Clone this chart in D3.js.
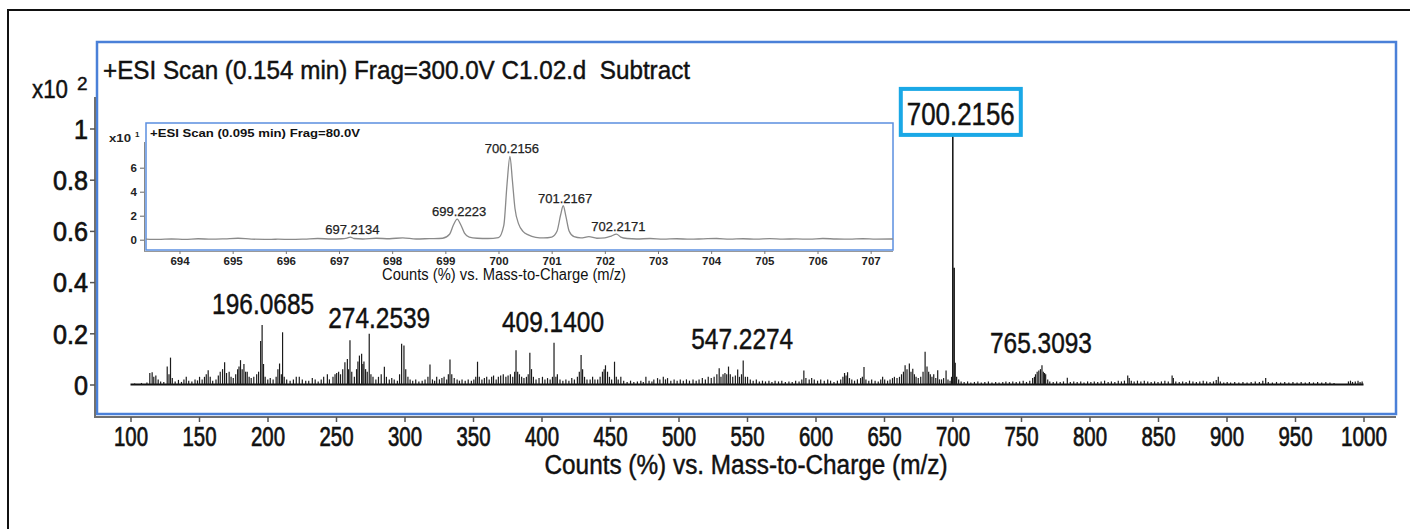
<!DOCTYPE html>
<html>
<head>
<meta charset="utf-8">
<script src="https://cdn.jsdelivr.net/npm/d3@7"></script>
<style>
  html, body { margin: 0; padding: 0; background: #fff; }
  svg { display: block; }
  .heavy { stroke: #111; stroke-width: 0.7px; paint-order: stroke; }
  .medium { stroke: #111; stroke-width: 0.45px; paint-order: stroke; }
</style>
</head>
<body>
<svg id="chart" width="1410" height="529"></svg>
<script>
// ---- Main scan: centroid peaks [m/z, relative counts (x10^2)] ----
const mainPeaks = [
  [103,0.004],[108,0.006],[112,0.008],[114.1,0.045],[115.8,0.048],[117.0,0.03],[118.5,0.035],[120.2,0.02],[122.0,0.012],[124.3,0.01],
  [126.8,0.07],[128.1,0.04],[129.2,0.105],[130.5,0.025],[132.6,0.012],[135.0,0.018],[137.2,0.01],[139.0,0.02],[140.7,0.03],[142.5,0.015],
  [144.8,0.012],[147.1,0.02],[148.9,0.016],[150.4,0.03],[152.3,0.02],[154.0,0.03],[155.3,0.04],[156.7,0.056],[158.2,0.03],[160.0,0.015],
  [162.4,0.02],[164.1,0.035],[165.5,0.05],[167.2,0.06],[168.7,0.087],[170.1,0.045],[172.0,0.05],[173.4,0.03],[175.0,0.025],[176.8,0.04],
  [178.2,0.06],[179.2,0.07],[180.3,0.095],[181.5,0.06],[182.8,0.08],[184.0,0.05],[185.2,0.05],[186.6,0.03],[188.1,0.025],[190.0,0.03],
  [192.1,0.04],[193.5,0.05],[195.0,0.17],[196.0685,0.232],[197.1,0.08],[198.3,0.03],[200.2,0.02],[202.0,0.025],[204.1,0.02],[206.3,0.03],
  [207.6,0.06],[208.8,0.082],[210.1,0.04],[211.0,0.204],[212.2,0.03],[214.0,0.02],[216.5,0.015],[218.9,0.02],[221.0,0.03],[223.2,0.03],
  [225.4,0.02],[227.9,0.015],[230.1,0.015],[232.7,0.025],[234.8,0.02],[237.0,0.012],[239.2,0.02],[241.0,0.03],[243.7,0.04],[245.2,0.02],
  [247.8,0.03],[249.3,0.04],[250.5,0.045],[251.9,0.05],[253.3,0.04],[254.9,0.06],[256.5,0.087],[258.3,0.1],[259.2,0.06],[260.2,0.173],
  [261.5,0.05],[263.4,0.03],[265.0,0.06],[266.0,0.09],[267.1,0.113],[268.7,0.12],[269.6,0.08],[270.4,0.09],[271.6,0.06],[272.8,0.05],
  [274.2539,0.198],[275.5,0.04],[277.0,0.03],[279.1,0.02],[281.0,0.03],[283.0,0.04],[285.3,0.069],[286.8,0.03],[288.9,0.02],[290.7,0.025],
  [292.5,0.02],[294.8,0.015],[296.4,0.04],[297.9,0.159],[299.6,0.152],[300.9,0.06],[302.5,0.03],[304.1,0.02],[306.0,0.015],[308.2,0.02],
  [310.5,0.012],[312.9,0.015],[315.0,0.02],[317.1,0.03],[318.6,0.078],[320.4,0.02],[322.0,0.015],[323.5,0.03],[325.5,0.02],[327.3,0.025],
  [328.9,0.03],[330.8,0.02],[332.0,0.04],[333.2,0.098],[334.5,0.04],[336.3,0.025],[338.4,0.02],[340.1,0.015],[342.0,0.02],[344.3,0.015],
  [346.5,0.02],[348.8,0.015],[350.6,0.02],[352.0,0.03],[353.3,0.089],[354.6,0.03],[356.5,0.02],[358.3,0.025],[360.0,0.03],[361.8,0.02],
  [363.6,0.03],[365.0,0.035],[366.9,0.02],[368.5,0.03],[370.2,0.035],[372.1,0.04],[374.0,0.03],[375.6,0.035],[377.3,0.04],[379.0,0.03],
  [380.4,0.05],[381.4,0.134],[382.6,0.05],[383.9,0.04],[385.5,0.03],[387.2,0.025],[389.0,0.03],[390.3,0.04],[391.5,0.124],[392.7,0.06],
  [394.1,0.03],[396.0,0.02],[398.2,0.025],[400.7,0.03],[402.5,0.02],[404.4,0.025],[406.3,0.02],[408.0,0.03],[409.14,0.163],[410.5,0.03],
  [411.6,0.04],[413.5,0.02],[415.6,0.015],[417.8,0.02],[420.0,0.015],[422.1,0.025],[424.0,0.02],[426.2,0.03],[427.6,0.05],[428.9,0.115],
  [430.0,0.06],[431.4,0.03],[433.2,0.02],[435.5,0.02],[437.3,0.03],[439.0,0.02],[441.0,0.02],[442.8,0.03],[444.5,0.05],[445.7,0.06],
  [446.7,0.075],[448.2,0.05],[449.6,0.03],[451.2,0.02],[453.3,0.089],[454.6,0.03],[456.0,0.02],[457.9,0.03],[460.0,0.015],[462.5,0.01],
  [465.0,0.015],[467.4,0.01],[470.0,0.012],[472.5,0.015],[474.3,0.01],[476.2,0.03],[478.5,0.015],[480.6,0.012],[482.0,0.02],[484.7,0.025],
  [486.4,0.02],[488.9,0.03],[490.5,0.02],[492.0,0.025],[494.4,0.015],[496.8,0.02],[499.0,0.015],[501.3,0.02],[503.5,0.015],[505.8,0.02],
  [508.0,0.015],[510.6,0.02],[512.9,0.015],[515.0,0.02],[517.4,0.025],[519.6,0.02],[521.7,0.03],[523.9,0.025],[526.0,0.03],[528.0,0.04],
  [529.7,0.063],[531.0,0.03],[532.5,0.04],[533.9,0.045],[535.2,0.04],[536.5,0.07],[537.8,0.04],[539.6,0.03],[541.5,0.035],[543.2,0.059],
  [544.5,0.03],[546.0,0.04],[547.2274,0.094],[548.8,0.03],[550.4,0.03],[552.4,0.02],[554.5,0.015],[556.8,0.02],[559.0,0.012],[561.3,0.015],
  [563.5,0.012],[566.0,0.015],[568.2,0.01],[570.5,0.015],[573.0,0.012],[575.4,0.015],[578.0,0.01],[580.6,0.012],[583.0,0.01],[585.5,0.015],
  [588.0,0.012],[590.0,0.02],[591.5,0.055],[593.0,0.025],[595.4,0.02],[597.2,0.025],[599.1,0.02],[601.5,0.015],[603.8,0.02],[606.4,0.015],
  [608.9,0.02],[611.0,0.015],[613.5,0.01],[616.0,0.015],[618.4,0.02],[620.0,0.03],[621.2,0.045],[622.3,0.035],[623.4,0.048],[624.8,0.025],
  [626.5,0.02],[628.5,0.015],[630.6,0.02],[632.9,0.025],[634.2,0.03],[635.4,0.068],[636.8,0.02],[638.9,0.015],[641.0,0.02],[643.5,0.015],
  [645.8,0.012],[647.6,0.02],[649.0,0.03],[650.5,0.02],[652.6,0.015],[654.4,0.02],[656.2,0.025],[657.6,0.03],[659.5,0.025],[661.3,0.03],
  [662.8,0.04],[664.2,0.05],[665.4,0.075],[666.8,0.06],[668.5,0.082],[669.7,0.05],[671.0,0.062],[672.2,0.04],[673.4,0.03],[675.0,0.025],
  [676.8,0.03],[678.5,0.05],[680.0,0.128],[681.4,0.07],[682.6,0.05],[683.8,0.04],[685.0,0.03],[686.3,0.04],[687.8,0.025],[689.2,0.056],
  [690.5,0.02],[692.0,0.02],[693.5,0.025],[695.3,0.055],[696.7,0.02],[698.2,0.015],[699.3,0.03],[700.2156,0.975],[701.2,0.456],[702.0,0.085],
  [703.0,0.03],[704.5,0.02],[706.3,0.012],[708.5,0.01],[711.0,0.012],[713.4,0.008],[716.0,0.01],[718.5,0.012],[721.0,0.008],[723.6,0.01],
  [726.2,0.012],[728.8,0.008],[731.5,0.01],[734.0,0.008],[736.7,0.01],[739.0,0.012],[741.5,0.01],[744.0,0.012],[746.5,0.01],[749.0,0.012],
  [751.6,0.015],[754.0,0.01],[756.4,0.015],[758.5,0.025],[759.8,0.03],[760.6,0.04],[761.8,0.05],[763.0,0.055],[764.2,0.06],[765.3093,0.075],
  [766.3,0.05],[767.2,0.045],[768.0,0.04],[769.5,0.02],[771.0,0.012],[773.5,0.01],[776.0,0.012],[778.6,0.01],[781.0,0.012],[783.8,0.026],
  [786.0,0.01],[788.5,0.012],[791.0,0.01],[793.6,0.012],[796.0,0.008],[798.6,0.012],[801.0,0.01],[803.5,0.012],[806.0,0.01],[808.5,0.012],
  [811.0,0.015],[813.6,0.01],[816.0,0.012],[818.5,0.01],[821.0,0.015],[823.3,0.012],[825.5,0.015],[827.9,0.035],[829.0,0.025],[830.5,0.015],
  [832.6,0.012],[835.0,0.015],[837.5,0.012],[840.0,0.015],[842.5,0.012],[845.0,0.01],[847.5,0.012],[850.0,0.01],[852.5,0.012],[855.0,0.015],
  [857.5,0.012],[860.3,0.035],[861.2,0.025],[863.0,0.012],[865.5,0.01],[868.0,0.012],[870.5,0.01],[873.0,0.015],[875.5,0.012],[878.0,0.01],
  [880.5,0.012],[883.0,0.015],[885.5,0.012],[888.0,0.01],[890.5,0.012],[892.5,0.018],[894.0,0.03],[895.5,0.012],[898.0,0.008],[900.5,0.01],
  [903.0,0.008],[906.0,0.01],[909.0,0.008],[912.0,0.01],[915.0,0.008],[918.0,0.01],[921.0,0.012],[924.0,0.01],[926.5,0.015],[928.6,0.025],
  [930.5,0.01],[933.5,0.008],[936.5,0.01],[939.5,0.008],[942.5,0.01],[945.5,0.008],[948.5,0.01],[951.5,0.008],[954.5,0.01],[957.5,0.008],
  [960.5,0.01],[963.5,0.008],[966.5,0.01],[969.5,0.008],[972.5,0.01],[975.5,0.008],[978.5,0.006],[989.0,0.012],[990.5,0.015],[992.0,0.01],
  [994.0,0.012],[996.0,0.015],[997.5,0.01],[999.0,0.012]
];
const mainLabels = ["196.0685", "274.2539", "409.1400", "547.2274", "765.3093"];
const mainBaseLabel = "700.2156";
const mainXTicks = [100,150,200,250,300,350,400,450,500,550,600,650,700,750,800,850,900,950,1000];
const mainYTicks = [0, 0.2, 0.4, 0.6, 0.8, 1];

// ---- Inset scan: profile points [m/z, counts (x10^1)] ----
const insetProfile = [
  [693.37,0.05],[693.6,0.02],[693.85,0.06],[694.1,0.03],[694.35,0.08],[694.6,0.04],[694.85,0.07],[695.1,0.12],[695.35,0.05],[695.6,0.03],
  [695.85,0.04],[696.1,0.02],[696.35,0.05],[696.6,0.1],[696.85,0.06],[697.05,0.08],[697.15,0.14],[697.2134,0.22],[697.28,0.1],[697.45,0.06],
  [697.7,0.12],[697.95,0.08],[698.2,0.16],[698.45,0.06],[698.7,0.09],[698.95,0.12],[699.08,0.45],[699.15,1.2],[699.2223,1.72],[699.29,1.25],
  [699.36,0.55],[699.45,0.22],[699.6,0.12],[699.8,0.1],[700.0,0.18],[700.1,1.2],[700.16,4.6],[700.2156,6.95],[700.26,5.0],[700.31,2.6],
  [700.38,1.3],[700.46,0.7],[700.56,0.4],[700.7,0.2],[700.85,0.15],[701.0,0.22],[701.1,0.7],[701.17,2.1],[701.2167,2.83],[701.27,1.9],
  [701.33,0.7],[701.42,0.25],[701.55,0.15],[701.7,0.25],[701.85,0.12],[702.0,0.15],[702.12,0.3],[702.2171,0.47],[702.3,0.22],[702.42,0.1],
  [702.6,0.06],[702.85,0.1],[703.1,0.05],[703.35,0.08],[703.6,0.04],[703.85,0.07],[704.1,0.1],[704.35,0.05],[704.6,0.08],[704.85,0.04],
  [705.1,0.09],[705.35,0.05],[705.6,0.07],[705.85,0.04],[706.1,0.1],[706.35,0.06],[706.6,0.05],[706.85,0.08],[707.1,0.05],[707.42,0.06]
];
const insetLabels = ["697.2134", "699.2223", "700.2156", "701.2167", "702.2171"];
const insetXTicks = [694,695,696,697,698,699,700,701,702,703,704,705,706,707];
const insetYTicks = [0, 2, 4, 6];

// ---- Styling ----
const NARROW = "'Liberation Sans Narrow','Arial Narrow','Liberation Sans',Arial,sans-serif";
const SANS = "'Liberation Sans',Arial,Helvetica,sans-serif";
const INK = "#111";
const FRAME_BLUE = "#4a80d8";
const AXIS_GREY = "#707070";

const svg = d3.select("#chart");

// Outer page frame
svg.append("path")
  .attr("d", "M8,529 V10 H1410")
  .attr("fill", "none").attr("stroke", "#111").attr("stroke-width", 2);

// Scales for the main scan
const x = d3.scaleLinear().domain([100, 1000]).range([130.5, 1363.5]);
const y = d3.scaleLinear().domain([0, 1]).range([384.5, 128.5]);

// Plot frame and axis rails
svg.append("rect")
  .attr("x", 97).attr("y", 42).attr("width", 1299).attr("height", 372)
  .attr("fill", "none").attr("stroke", FRAME_BLUE).attr("stroke-width", 2.5);
svg.append("line").attr("x1", 95).attr("x2", 95).attr("y1", 97).attr("y2", 418)
  .attr("stroke", AXIS_GREY).attr("stroke-width", 2);
svg.append("line").attr("x1", 94).attr("x2", 1396).attr("y1", 417).attr("y2", 417)
  .attr("stroke", AXIS_GREY).attr("stroke-width", 2);

// X axis
const gx = svg.append("g").attr("transform", "translate(0,417)")
  .call(d3.axisBottom(x).tickValues(mainXTicks).tickSize(5).tickFormat(d3.format("d")));
gx.select(".domain").remove();
gx.selectAll(".tick line").attr("stroke", "#555").attr("stroke-width", 1.5);
gx.selectAll(".tick text")
  .attr("class", "heavy")
  .attr("y", 20).attr("dy", "0.35em")
  .attr("font-family", NARROW).attr("font-size", 27).attr("fill", INK)
  .attr("textLength", d => String(d).length === 4 ? 46 : 34)
  .attr("lengthAdjust", "spacingAndGlyphs");

// Y axis
const gy = svg.append("g").attr("transform", "translate(95,0)")
  .call(d3.axisLeft(y).tickValues(mainYTicks).tickSize(5)
    .tickFormat(d => (d === 0 || d === 1) ? String(d) : d.toFixed(1)));
gy.select(".domain").remove();
gy.selectAll(".tick line").attr("stroke", "#555").attr("stroke-width", 1.5);
gy.selectAll(".tick text")
  .attr("class", "heavy")
  .attr("x", -7).attr("dy", "0.35em")
  .attr("font-family", NARROW).attr("font-size", 28).attr("fill", INK)
  .attr("textLength", d => (d === 0 || d === 1) ? 14 : 35)
  .attr("lengthAdjust", "spacingAndGlyphs");

// Y multiplier
svg.append("text").attr("class", "medium").attr("x", 32).attr("y", 98)
  .attr("font-family", NARROW).attr("font-size", 25).attr("fill", INK)
  .attr("textLength", 36).attr("lengthAdjust", "spacingAndGlyphs").text("x10");
svg.append("text").attr("class", "medium").attr("x", 77).attr("y", 90)
  .attr("font-family", NARROW).attr("font-size", 19).attr("fill", INK).text("2");

// Title
svg.append("text").attr("class", "medium").attr("x", 103).attr("y", 79)
  .attr("font-family", NARROW).attr("font-size", 26).attr("fill", INK)
  .style("white-space", "pre")
  .attr("textLength", 587).attr("lengthAdjust", "spacingAndGlyphs")
  .text("+ESI Scan (0.154 min) Frag=300.0V C1.02.d  Subtract");

// Axis title
svg.append("text").attr("class", "medium").attr("x", 746).attr("y", 474).attr("text-anchor", "middle")
  .attr("font-family", NARROW).attr("font-size", 27).attr("fill", INK)
  .attr("textLength", 403).attr("lengthAdjust", "spacingAndGlyphs")
  .text("Counts (%) vs. Mass-to-Charge (m/z)");

// Spectrum: baseline plus one stick per centroid
const spec = svg.append("g");
spec.append("line")
  .attr("x1", x(100)).attr("x2", x(1000)).attr("y1", y(0)).attr("y2", y(0))
  .attr("stroke", INK).attr("stroke-width", 1.8);
spec.selectAll("line.peak").data(mainPeaks).join("line").attr("class", "peak")
  .attr("x1", d => x(d[0])).attr("x2", d => x(d[0]))
  .attr("y1", y(0)).attr("y2", d => y(d[1]))
  .attr("stroke", "#1b1b1b")
  .attr("stroke-width", d => d[1] > 0.3 ? 1.6 : 1.2);

const peakAt = (list, mz) => list.reduce((a, b) => Math.abs(b[0] - mz) < Math.abs(a[0] - mz) ? b : a);

// Peak annotations (offsets in px: horizontal shift, gap above the stick top)
const labelLayout = { "196.0685": [1, 11], "274.2539": [10, 6], "409.1400": [-1, 11], "547.2274": [-1, 11], "765.3093": [-1, 12] };
mainLabels.forEach(lbl => {
  const p = peakAt(mainPeaks, +lbl);
  const [dx, gap] = labelLayout[lbl];
  svg.append("text").attr("class", "medium")
    .attr("x", x(p[0]) + dx).attr("y", y(p[1]) - gap)
    .attr("text-anchor", "middle")
    .attr("font-family", NARROW).attr("font-size", 29).attr("fill", INK)
    .attr("textLength", 102).attr("lengthAdjust", "spacingAndGlyphs")
    .text(lbl);
});

// Base peak callout box
{
  const p = peakAt(mainPeaks, +mainBaseLabel);
  const cx = x(p[0]) + 8, bottom = y(p[1]);
  svg.append("rect")
    .attr("x", cx - 60).attr("y", bottom - 46).attr("width", 120).attr("height", 46)
    .attr("fill", "#fff").attr("stroke", "#1aa8e6").attr("stroke-width", 4);
  svg.append("text").attr("class", "medium")
    .attr("x", cx).attr("y", bottom - 10).attr("text-anchor", "middle")
    .attr("font-family", NARROW).attr("font-size", 31).attr("fill", INK)
    .attr("textLength", 108).attr("lengthAdjust", "spacingAndGlyphs")
    .text(mainBaseLabel);
}

// ---- Inset: low-fragmentor profile around the molecular ion ----
const xi = d3.scaleLinear().domain([693.37, 707.42]).range([146, 893]);
const yi = d3.scaleLinear().domain([0, 1]).range([239.7, 227.7]);
const inset = svg.append("g");

inset.append("rect")
  .attr("x", 146).attr("y", 123).attr("width", 747).attr("height", 127)
  .attr("fill", "#fff").attr("stroke", "#5b8fe0").attr("stroke-width", 1.5);
inset.append("line").attr("x1", 144.5).attr("x2", 144.5).attr("y1", 142).attr("y2", 251)
  .attr("stroke", "#888").attr("stroke-width", 1);
inset.append("line").attr("x1", 144).attr("x2", 893).attr("y1", 251.5).attr("y2", 251.5)
  .attr("stroke", "#999").attr("stroke-width", 1);

const gyi = inset.append("g").attr("transform", "translate(144,0)")
  .call(d3.axisLeft(yi).tickValues(insetYTicks).tickSize(4).tickFormat(d3.format("d")));
gyi.select(".domain").remove();
gyi.selectAll(".tick line").attr("stroke", "#666");
gyi.selectAll(".tick text").attr("x", -7).attr("dy", "0.35em")
  .attr("font-family", SANS).attr("font-weight", "bold").attr("font-size", 11.5).attr("fill", "#222");

const gxi = inset.append("g").attr("transform", "translate(0,251)")
  .call(d3.axisBottom(xi).tickValues(insetXTicks).tickSize(3).tickFormat(d3.format("d")));
gxi.select(".domain").remove();
gxi.selectAll(".tick line").attr("stroke", "#777");
gxi.selectAll(".tick text").attr("y", 10).attr("dy", "0.35em")
  .attr("font-family", SANS).attr("font-weight", "bold").attr("font-size", 11.5).attr("fill", "#222");

// Inset axis title sits tight under the tick labels
inset.append("text").attr("x", 504).attr("y", 280).attr("text-anchor", "middle")
  .attr("font-family", NARROW).attr("font-size", 16).attr("fill", INK)
  .attr("textLength", 244).attr("lengthAdjust", "spacingAndGlyphs")
  .text("Counts (%) vs. Mass-to-Charge (m/z)");

inset.append("text").attr("x", 109).attr("y", 142)
  .attr("font-family", SANS).attr("font-weight", "bold").attr("font-size", 10.5).attr("fill", "#222")
  .attr("textLength", 22).attr("lengthAdjust", "spacingAndGlyphs").text("x10");
inset.append("text").attr("x", 135).attr("y", 137)
  .attr("font-family", SANS).attr("font-weight", "bold").attr("font-size", 8).attr("fill", "#222").text("1");

inset.append("text").attr("x", 150).attr("y", 137)
  .attr("font-family", SANS).attr("font-weight", "bold").attr("font-size", 11.5).attr("fill", "#111")
  .attr("textLength", 210).attr("lengthAdjust", "spacingAndGlyphs")
  .text("+ESI Scan (0.095 min) Frag=80.0V");

inset.append("path").datum(insetProfile)
  .attr("d", d3.line().x(d => xi(d[0])).y(d => yi(d[1])).curve(d3.curveMonotoneX))
  .attr("fill", "none").attr("stroke", "#8a8a8a").attr("stroke-width", 1.3);

insetLabels.forEach(lbl => {
  const p = peakAt(insetProfile, +lbl);
  inset.append("text")
    .attr("x", xi(p[0]) + 2).attr("y", yi(p[1]) - 3)
    .attr("text-anchor", "middle")
    .attr("font-family", SANS).attr("font-size", 13).attr("fill", "#222")
    .attr("stroke", "#222").attr("stroke-width", 0.25)
    .text(lbl);
});
</script>
</body>
</html>
